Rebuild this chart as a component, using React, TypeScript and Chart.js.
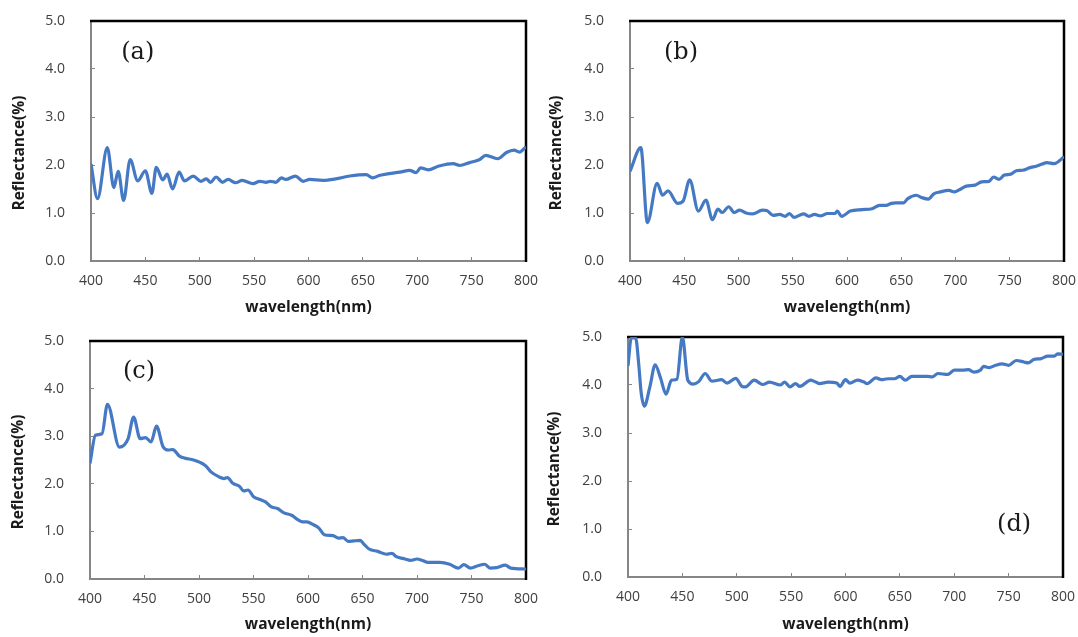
import React, { useEffect, useRef } from "react";
import { Chart, registerables } from "chart.js";

Chart.register(...registerables);

// ---------- data ----------
const wavelengthA = [400,406,415,421,425,430,436,443,450,456,460,466,470,475,481,486,494,501,506,510,515,521,526,533,539,549,555,561,565,570,575,579,588,595,601,613,625,638,653,659,665,674,684,693,699,703,710,720,733,739,748,757,763,774,782,789,794,800];
const reflectanceA = [2.02,1.30,2.36,1.53,1.87,1.26,2.11,1.67,1.88,1.41,1.95,1.69,1.81,1.50,1.85,1.67,1.77,1.66,1.71,1.64,1.75,1.64,1.70,1.63,1.68,1.61,1.66,1.64,1.66,1.64,1.73,1.70,1.77,1.66,1.70,1.68,1.71,1.77,1.80,1.73,1.78,1.82,1.85,1.89,1.84,1.94,1.90,1.98,2.03,1.99,2.05,2.11,2.20,2.13,2.26,2.31,2.27,2.38];

const wavelengthB = [400,410,416,425,430,435,444,449,455,463,470,476,481,485,491,496,501,507,513,522,526,532,538,543,547,551,560,565,570,576,582,589,591,595,603,614,623,630,636,641,645,652,656,664,669,675,680,686,694,699,704,710,718,724,731,735,740,745,751,756,762,768,775,780,784,791,800];
const reflectanceB = [1.87,2.36,0.80,1.62,1.37,1.46,1.20,1.25,1.69,1.04,1.27,0.86,1.08,1.01,1.13,1.01,1.06,1.00,0.98,1.06,1.05,0.95,0.97,0.93,0.99,0.91,0.98,0.93,0.97,0.94,0.99,0.99,1.04,0.93,1.04,1.07,1.09,1.16,1.16,1.20,1.21,1.21,1.30,1.37,1.32,1.29,1.40,1.44,1.47,1.44,1.49,1.56,1.58,1.65,1.66,1.75,1.70,1.79,1.81,1.88,1.89,1.94,1.98,2.02,2.05,2.03,2.17];

const wavelengthC = [400,405,411,416,427,435,440,446,451,456,461,467,472,476,482,487,495,501,506,511,518,523,526,531,537,541,545,550,556,561,566,572,578,585,591,595,599,605,610,615,623,628,632,637,642,648,651,656,664,672,677,681,689,694,700,705,710,721,730,738,743,749,756,762,767,773,781,786,800];
const reflectanceC = [2.43,3.02,3.05,3.67,2.77,2.95,3.40,2.95,2.97,2.88,3.21,2.78,2.71,2.72,2.58,2.54,2.50,2.45,2.38,2.25,2.15,2.11,2.13,2.01,1.95,1.85,1.87,1.73,1.67,1.62,1.52,1.48,1.39,1.34,1.24,1.20,1.20,1.14,1.07,0.93,0.91,0.86,0.87,0.79,0.80,0.81,0.74,0.63,0.58,0.52,0.54,0.47,0.42,0.39,0.42,0.39,0.35,0.35,0.31,0.23,0.30,0.23,0.28,0.31,0.23,0.24,0.29,0.23,0.21];

const wavelengthD = [400,403,407,410,412,415,420,425,430,435,440,445,450,455,460,465,471,477,486,491,499,505,508,516,524,530,540,544,549,554,558,568,571,576,584,592,595,600,604,611,617,620,628,633,639,645,650,655,661,669,675,680,685,694,700,708,713,718,724,727,732,738,744,750,757,764,768,773,780,786,792,795,800];
const reflectanceD = [4.40,4.98,4.98,4.40,3.86,3.56,3.95,4.42,4.14,3.81,4.10,4.12,5.00,4.10,4.02,4.07,4.24,4.08,4.11,4.04,4.14,3.97,3.96,4.10,4.01,4.06,4.00,4.06,3.96,4.03,3.97,4.10,4.08,4.03,4.06,4.04,3.97,4.11,4.04,4.10,4.06,4.03,4.15,4.11,4.13,4.13,4.18,4.10,4.18,4.18,4.18,4.17,4.24,4.22,4.31,4.31,4.32,4.27,4.31,4.39,4.36,4.41,4.44,4.41,4.51,4.48,4.46,4.53,4.55,4.60,4.60,4.65,4.64];

const panelLabels = ["(a)", "(b)", "(c)", "(d)"];
const xAxisTitle = "wavelength(nm)";
const yAxisTitle = "Reflectance(%)";
const xRange = [400, 800];
const yRange = [0, 5];
const xStep = 50;
const yStep = 1;

// ---------- styling ----------
const LINE_COLOR = "#4579c4";
const AXIS_GRAY = "#868686";
const TICK_COLOR = "#404040";
const TEXT_DARK = "#1a1a1a";
const TITLE_FONT = 'bold 15.5px "Open Sans"';

const decorPlugin = {
  id: "panelDecor",
  beforeDatasetsDraw(chart: any) {
    const { ctx, chartArea } = chart;
    const { left, top, right, bottom } = chartArea;
    ctx.save();
    ctx.strokeStyle = "#000000";
    ctx.lineWidth = 2.5;
    ctx.beginPath();
    ctx.moveTo(left - 1, top);
    ctx.lineTo(right, top);
    ctx.lineTo(right, bottom + 1);
    ctx.stroke();
    ctx.restore();
  },
  afterDraw(chart: any, _args: any, opts: any) {
    const { ctx, chartArea, scales } = chart;
    ctx.save();
    ctx.fillStyle = TEXT_DARK;
    ctx.textAlign = "center";
    ctx.textBaseline = "middle";
    ctx.font = '24px "DejaVu Serif"';
    ctx.fillText(
      opts.label,
      scales.x.getPixelForValue(opts.labelX),
      scales.y.getPixelForValue(opts.labelY)
    );
    ctx.translate(
      chartArea.left - opts.titleGap,
      (chartArea.top + chartArea.bottom) / 2 + opts.titleShift
    );
    ctx.rotate(-Math.PI / 2);
    ctx.font = TITLE_FONT;
    ctx.fillText(opts.yTitle, 0, 0);
    ctx.restore();
  },
};

type PanelSpec = {
  wl: number[];
  refl: number[];
  label: string;
  labelX: number;
  labelY: number;
  left: number;
  top: number;
  width: number;
  height: number;
  yWidth: number;
  xHeight: number;
  padTop: number;
  padRight: number;
  titleGap: number;
};

function zeroPadding(s: any) {
  s.paddingTop = 0;
  s.paddingBottom = 0;
  s.paddingLeft = 0;
  s.paddingRight = 0;
}

function Panel(p: PanelSpec) {
  const ref = useRef<HTMLCanvasElement | null>(null);
  useEffect(() => {
    if (!ref.current) return;
    const data = p.wl.map((w, i) => ({ x: w, y: p.refl[i] }));
    const tickFont = { family: "Open Sans", size: 14 };
    const chart = new Chart(ref.current, {
      type: "line",
      data: {
        datasets: [
          {
            data,
            borderColor: LINE_COLOR,
            borderWidth: 3.2,
            pointRadius: 0,
            fill: false,
            cubicInterpolationMode: "monotone",
          },
        ],
      },
      options: {
        animation: false,
        responsive: false,
        events: [],
        layout: { padding: { top: p.padTop, right: p.padRight, left: 0, bottom: 0 } },
        plugins: {
          legend: { display: false },
          tooltip: { enabled: false },
          panelDecor: {
            label: p.label,
            labelX: p.labelX,
            labelY: p.labelY,
            yTitle: yAxisTitle,
            titleGap: p.titleGap,
            titleShift: 12,
          },
        } as any,
        scales: {
          x: {
            type: "linear",
            min: xRange[0],
            max: xRange[1],
            ticks: {
              stepSize: xStep,
              padding: 16,
              color: TICK_COLOR,
              font: tickFont,
              maxRotation: 0,
              autoSkip: false,
            },
            grid: {
              drawOnChartArea: false,
              drawTicks: true,
              tickLength: -4,
              color: AXIS_GRAY,
              lineWidth: 1,
            },
            border: { display: true, color: AXIS_GRAY, width: 2 },
            title: {
              display: true,
              text: xAxisTitle,
              color: TEXT_DARK,
              font: { family: "Open Sans", size: 15.5, weight: "bold" },
              padding: { top: 0, bottom: 3 },
            },
            afterFit: (s: any) => {
              s.height = p.xHeight;
              zeroPadding(s);
            },
          },
          y: {
            type: "linear",
            min: yRange[0],
            max: yRange[1],
            ticks: {
              stepSize: yStep,
              padding: 30,
              color: TICK_COLOR,
              font: tickFont,
              callback: (v: any) => Number(v).toFixed(1),
            },
            grid: {
              drawOnChartArea: false,
              drawTicks: true,
              tickLength: -4,
              color: AXIS_GRAY,
              lineWidth: 1,
            },
            border: { display: true, color: AXIS_GRAY, width: 2 },
            afterFit: (s: any) => {
              s.width = p.yWidth;
              zeroPadding(s);
            },
          },
        },
      } as any,
      plugins: [decorPlugin],
    });
    return () => chart.destroy();
  }, []);
  return (
    <div style={{ position: "absolute", left: p.left, top: p.top, width: p.width, height: p.height }}>
      <canvas ref={ref} width={p.width} height={p.height} style={{ width: p.width, height: p.height, display: "block" }} />
    </div>
  );
}

export default function App() {
  const panels: PanelSpec[] = [
    { wl: wavelengthA, refl: reflectanceA, label: panelLabels[0], labelX: 443, labelY: 4.33,
      left: 0, top: 0, width: 540, height: 320, yWidth: 91, xHeight: 59, padTop: 21, padRight: 14, titleGap: 71 },
    { wl: wavelengthB, refl: reflectanceB, label: panelLabels[1], labelX: 447, labelY: 4.33,
      left: 540, top: 0, width: 538, height: 320, yWidth: 90, xHeight: 59, padTop: 21, padRight: 14, titleGap: 73 },
    { wl: wavelengthC, refl: reflectanceC, label: panelLabels[2], labelX: 445, labelY: 4.35,
      left: 0, top: 320, width: 540, height: 317, yWidth: 90, xHeight: 58, padTop: 21, padRight: 14, titleGap: 71 },
    { wl: wavelengthD, refl: reflectanceD, label: panelLabels[3], labelX: 755, labelY: 1.08,
      left: 540, top: 320, width: 538, height: 317, yWidth: 88, xHeight: 60, padTop: 17, padRight: 15, titleGap: 73 },
  ];
  return (
    <div style={{ position: "absolute", left: 0, top: 0, width: 1078, height: 637, background: "#ffffff", overflow: "hidden" }}>
      {panels.map((p, i) => (
        <Panel key={i} {...p} />
      ))}
    </div>
  );
}
